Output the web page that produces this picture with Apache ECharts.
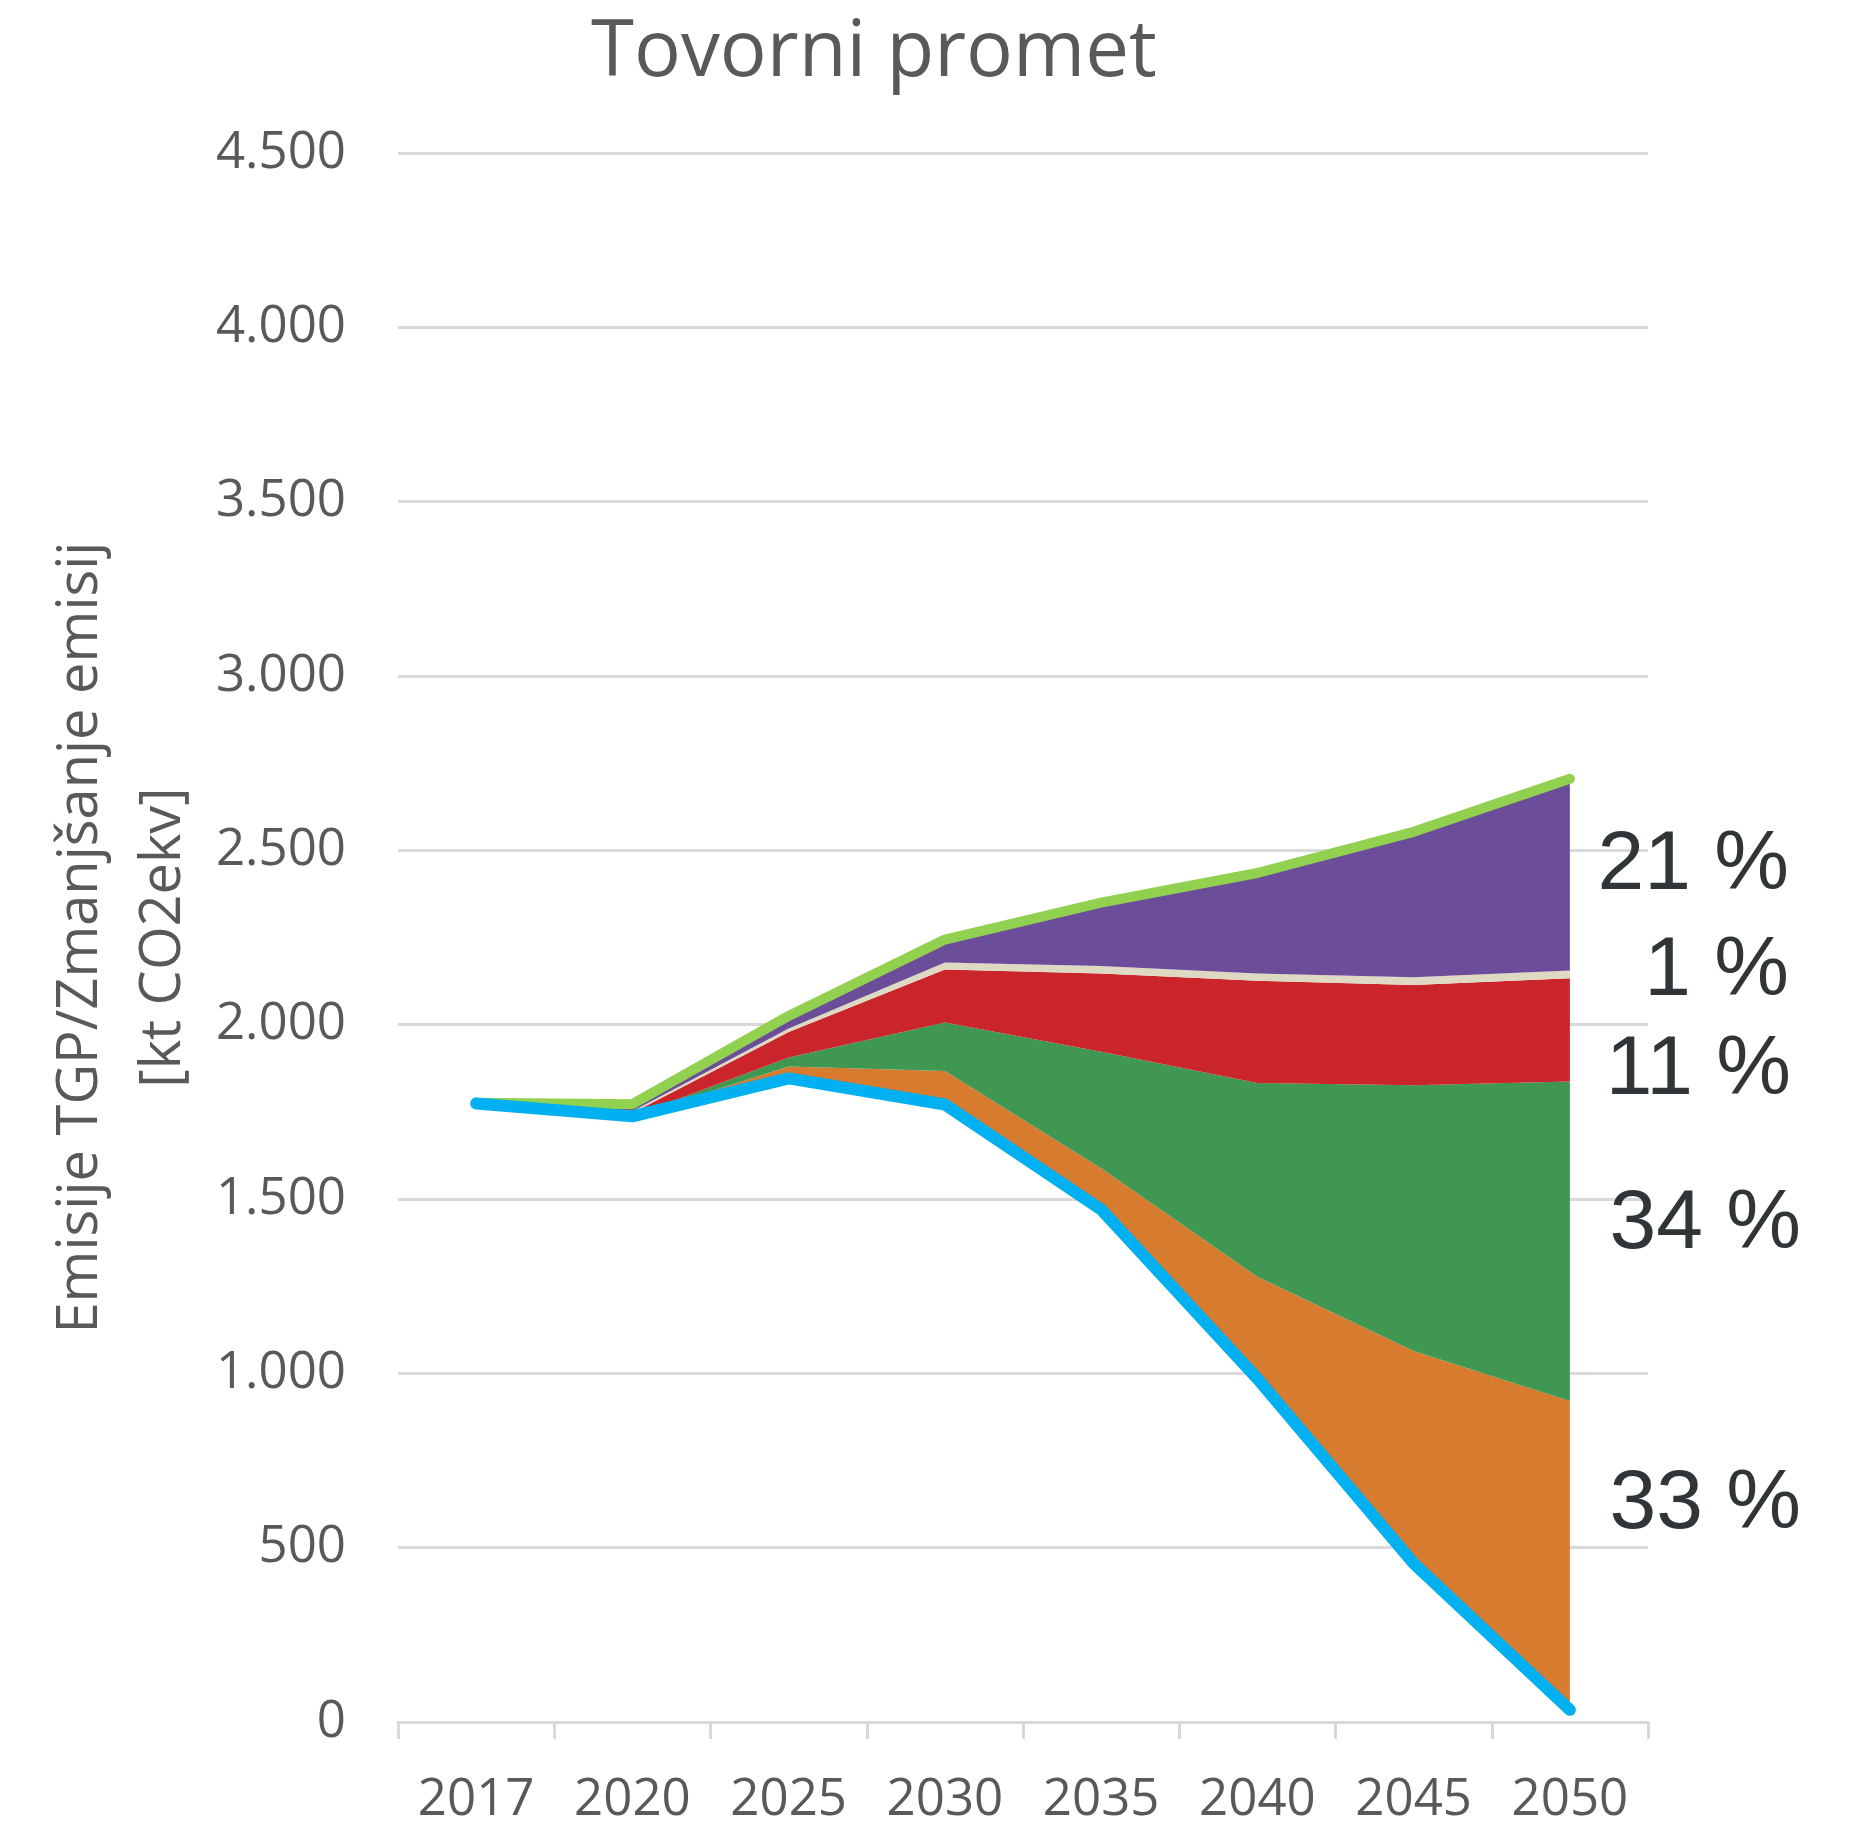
<!DOCTYPE html>
<html>
<head>
<meta charset="utf-8">
<script src="https://cdn.jsdelivr.net/npm/echarts@6/dist/echarts.min.js"></script>
<style>
  html, body { margin: 0; padding: 0; background: #fff; }
  #chart { width: 1854px; height: 1826px; }
</style>
</head>
<body>
<div id="chart"></div>
<script>
// leta
const years = ["2017", "2020", "2025", "2030", "2035", "2040", "2045", "2050"];
// emisije po ukrepih (modra črta)
const emisije = [1774, 1737, 1846, 1771, 1470, 985, 455, 35];
// izhodiščne emisije (zelena črta)
const izhodisce = [1776, 1772, 2025, 2244, 2350, 2435, 2553, 2705];
// zmanjšanja, zložena nad modro črto
const oranzna = [0, 0, 34, 96, 118, 292, 609, 886];
const zelena = [0, 0, 26, 139, 334, 556, 762, 916];
const rdeca = [0, 10, 73, 152, 225, 293, 288, 296];
const bez = [0, 5, 10, 20, 21, 21, 22, 22];
const vijolicna = [0, 20, 36, 66, 182, 288, 417, 550];
// deleži v letu 2050
const delezi = ["33 %", "34 %", "11 %", "1 %", "21 %"];
const yTicks = [0, 500, 1000, 1500, 2000, 2500, 3000, 3500, 4000, 4500];

const font = "'Open Sans', sans-serif";
const grey = "#595959";

// zadnja točka dobi oznako z deležem
function withLabel(values, text, dx, dy) {
  return values.map(function (v, i) {
    if (i !== values.length - 1) return v;
    return {
      value: v,
      label: {
        show: true,
        position: "inside",
        align: "right",
        verticalAlign: "middle",
        offset: [dx, dy],
        formatter: text,
        fontFamily: "'Liberation Sans', Arial, sans-serif",
        fontSize: 84,
        color: "#303538"
      }
    };
  });
}

function area(name, values, color, text, dx, dy) {
  return {
    name: name,
    type: "line",
    stack: "skupaj",
    data: withLabel(values, text, dx, dy),
    symbol: "circle",
    symbolSize: 0,
    showSymbol: true,
    lineStyle: { width: 0 },
    itemStyle: { color: color },
    areaStyle: { color: color, opacity: 1 },
    emphasis: { disabled: true },
    silent: true,
    z: 2
  };
}

let option = {
  animation: false,
  backgroundColor: "#ffffff",
  title: {
    text: "Tovorni promet",
    left: 586,
    top: 10,
    textStyle: { fontFamily: font, fontSize: 78, fontWeight: "normal", color: grey }
  },
  grid: { left: 398, right: 206, top: 153, bottom: 103, containLabel: false },
  xAxis: {
    type: "category",
    data: years,
    boundaryGap: true,
    axisLine: { lineStyle: { color: "#d9d9d9", width: 3 } },
    axisTick: { show: true, length: 17, lineStyle: { color: "#d9d9d9", width: 3 } },
    axisLabel: { fontFamily: font, fontSize: 51, color: grey, margin: 53 }
  },
  yAxis: {
    type: "value",
    min: 0,
    max: 4500,
    interval: 500,
    name: "Emisije TGP/Zmanjšanje emisij\n[kt CO2ekv]",
    nameLocation: "middle",
    nameGap: 192,
    nameTextStyle: { fontFamily: font, fontSize: 56, color: grey, lineHeight: 83 },
    axisLine: { show: false },
    axisTick: { show: false },
    splitLine: { lineStyle: { color: "#d9d9d9", width: 3 } },
    axisLabel: {
      fontFamily: font,
      fontSize: 51,
      color: grey,
      margin: 52,
      formatter: function (v) {
        return yTicks.indexOf(v) >= 0 ? v.toLocaleString("de-DE") : "";
      }
    }
  },
  series: [
    {
      name: "osnova",
      type: "line",
      stack: "skupaj",
      data: emisije,
      symbol: "none",
      lineStyle: { width: 0, opacity: 0 },
      silent: true,
      z: 1
    },
    area("A", oranzna, "#d77b2f", delezi[0], 231, 104),
    area("B", zelena, "#3f9751", delezi[1], 231, 143),
    area("C", rdeca, "#c9252b", delezi[2], 221, 93),
    area("D", bez, "#ddd9c3", delezi[3], 219, 1),
    area("E", vijolicna, "#6b4d99", delezi[4], 219, 87),
    {
      name: "Izhodišče",
      type: "line",
      data: izhodisce,
      symbol: "none",
      lineStyle: { color: "#92d050", width: 10, cap: "round", join: "round" },
      silent: true,
      z: 5
    },
    {
      name: "Emisije",
      type: "line",
      data: emisije,
      symbol: "none",
      lineStyle: { color: "#00b0f0", width: 12, cap: "round", join: "round" },
      silent: true,
      z: 6
    }
  ]
};

let myChart = echarts.init(document.getElementById("chart"));
myChart.setOption(option);
</script>
</body>
</html>
